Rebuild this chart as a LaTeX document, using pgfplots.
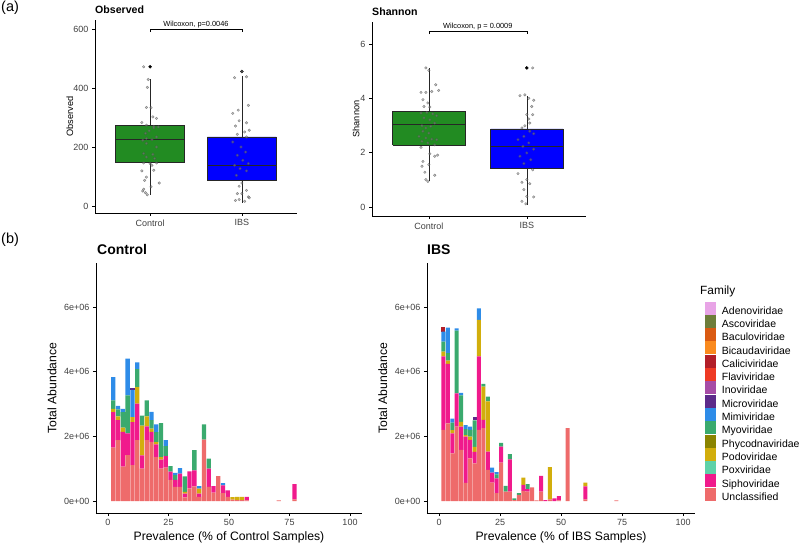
\documentclass[border=0pt]{standalone}
\usepackage{pgfplots}
\pgfplotsset{compat=1.18}
\usepackage{pgfplotstable}
\usepackage{fontspec}
\setmainfont{Liberation Sans}
\newcommand\fs[1]{\fontsize{#1}{#1}\selectfont}
\definecolor{cAde}{HTML}{E8A4E6}
\definecolor{cAsc}{HTML}{6E7D3A}
\definecolor{cBac}{HTML}{DA5A12}
\definecolor{cBic}{HTML}{FA8A1E}
\definecolor{cCal}{HTML}{B21E28}
\definecolor{cFla}{HTML}{EE3A24}
\definecolor{cIno}{HTML}{A64CA6}
\definecolor{cMic}{HTML}{5C2A8A}
\definecolor{cMim}{HTML}{2E8CE8}
\definecolor{cMyo}{HTML}{3AAA6E}
\definecolor{cPhy}{HTML}{8A8400}
\definecolor{cPod}{HTML}{D2AE0C}
\definecolor{cPox}{HTML}{5ED2A8}
\definecolor{cSip}{HTML}{F01A8C}
\definecolor{cUnc}{HTML}{EE6B6B}
\definecolor{cGreen}{HTML}{228B22}
\definecolor{cBlue}{HTML}{0000FF}

\pgfplotstableread{
x U S P M B D R
2.20 1.65 1.10 0.10 0.26 0.72 0 0
4.17 1.88 0.62 0.12 0.21 0.11 0 0
6.14 1.06 1.08 0.13 0.48 0.10 0 0
8.11 1.42 0.67 0 1.18 1.13 0 0
10.08 1.11 1.33 0.15 0 0.84 0.05 0
12.05 1.88 1.13 0.51 0.56 0.21 0 0
14.02 1.00 0.41 0.92 0.31 0 0 0
15.99 1.88 0.43 0.31 0.49 0 0 0
17.96 1.83 0.31 0.10 0.26 0.26 0 0
19.93 1.36 0.39 0.07 0.31 0.24 0 0
21.90 1.00 0.28 0.08 1.05 0 0 0
23.87 1.03 0.36 0 0.31 0.18 0 0
25.84 0.65 0.26 0 0.17 0 0 0
27.81 0.44 0.21 0 0.15 0.07 0 0
29.78 0.44 0.41 0 0 0.17 0 0
31.75 0.11 0.12 0.05 0.48 0 0 0
33.72 0.39 0.53 0 0 0 0 0
35.69 0.45 0.50 0 0.62 0 0 0
37.66 0.13 0.10 0.15 0 0.08 0 0
39.63 1.90 0 0 0.47 0 0 0
41.60 0.44 0.56 0 0.31 0 0 0
43.57 0.26 0.20 0 0 0 0 0
45.54 0.77 0 0 0 0 0 0
47.51 0.24 0.24 0 0 0.07 0 0
49.48 0.13 0.20 0 0 0 0 0
51.45 0.04 0 0.08 0 0 0 0
53.42 0.03 0 0.10 0 0 0 0
55.39 0.03 0 0.10 0 0 0 0
57.36 0.02 0.11 0 0 0 0 0
70.60 0.02 0 0 0 0 0 0
77.10 0.05 0.47 0 0 0 0 0
}\ctrl

\pgfplotstableread{
x U S P M B D R
1.82 2.20 2.27 0.15 0.31 0.31 0 0.15
3.64 2.40 1.84 0.10 0.23 0.79 0 0
5.45 1.47 0.62 0.10 0.23 0.13 0 0
7.27 2.30 1.03 0 1.94 0.07 0 0
9.09 1.58 0.72 0.15 0.82 0.07 0 0
10.91 0.56 1.43 0.05 0.18 0.13 0 0
12.73 1.32 0.57 0.10 0.21 0.10 0 0
14.55 1.16 0.36 0.15 0.82 0 0.10 0
16.36 2.20 2.27 1.13 0 0.36 0 0
18.18 2.25 0.26 1.03 0.08 0 0 0
20.00 0.96 0.57 1.55 0.15 0 0 0
21.82 0.57 0.31 0 0 0.15 0 0
23.64 0.24 0.46 0 0.12 0.07 0 0
25.45 1.19 0.49 0 0.12 0 0 0
27.27 0.29 0 0 0.18 0 0 0
29.09 0.29 1.00 0 0.16 0 0 0
30.91 0.03 0 0 0.05 0 0 0
32.73 0.19 0 0 0.05 0 0 0
34.55 0.31 0.19 0.22 0 0 0 0
36.36 0.29 0.08 0 0.15 0 0 0
38.18 0.42 0 0 0 0 0 0
40.00 0.02 0 0 0 0 0 0
41.82 0.29 0.49 0 0 0 0 0
43.64 0 0.03 0 0 0 0 0
45.45 0.05 0 1.00 0 0 0 0
47.27 0 0.08 0 0 0 0 0
49.09 0.02 0.13 0 0 0 0 0
52.73 2.25 0 0 0 0 0 0
60.00 0.05 0.40 0.12 0 0 0 0
72.73 0.02 0 0 0 0 0 0
}\ibs

\pgfplotsset{
  gg/.style={scale only axis, axis x line=bottom, axis y line=left,
    axis line style={-, black, line width=0.5pt},
    tick align=outside, major tick length=3pt,
    tick style={black, line width=0.5pt},
    ticklabel style={color=black!75},
    clip=false},
  jit/.style={only marks, mark=*, mark size=1.3pt,
    mark options={fill=black!45, draw=black!70, fill opacity=0.5, draw opacity=0.6}},
  sw/.style={legend image code/.code={\fill[#1] (0pt,-2.6pt) rectangle (10pt,9.4pt);}},
  bx/.style={draw=black!85, line width=0.5pt},
  md/.style={draw=black!85, line width=1pt}
}

\begin{document}
\begin{tikzpicture}
\useasboundingbox (0pt,0pt) rectangle (800pt,544pt);

% (a) Observed
\begin{axis}[gg, at={(95pt,331pt)}, anchor=south west, width=202pt, height=193pt,
  xmin=0.4, xmax=2.6, ymin=-23.7, ymax=630.5,
  xtick={1,2}, xticklabels={Control,IBS}, ytick={0,200,400,600}, yticklabels={0,200,400,600},
  ticklabel style={font=\fs{9}},
  ylabel={Observed}, ylabel style={font=\fs{9.2}, at={(axis description cs:-0.124,0.5)}, anchor=center}]
\addplot[bx] coordinates {(1,38) (1,147)};
\addplot[bx] coordinates {(1,274) (1,430)};
\addplot[bx, fill=cGreen] coordinates {(0.625,147) (1.375,147) (1.375,274) (0.625,274) (0.625,147)};
\addplot[md] coordinates {(0.625,225) (1.375,225)};
\addplot[bx] coordinates {(2,11) (2,87)};
\addplot[bx] coordinates {(2,234) (2,440)};
\addplot[bx, fill=cBlue] coordinates {(1.625,87) (2.375,87) (2.375,234) (1.625,234) (1.625,87)};
\addplot[md] coordinates {(1.625,138) (2.375,138)};
\addplot[only marks, mark=*, mark size=1.5pt, black] coordinates {(1,472) (2,456)};
\addplot[jit] coordinates {(0.93,472) (0.98,429) (0.97,402) (0.96,334) (1.01,333) (1.03,302) (1.07,297) (0.91,283) (0.96,274) (1.04,270) (1.09,268) (1.04,265) (0.99,255) (0.95,246) (1.07,234) (0.96,229) (0.92,223) (1.02,225) (0.96,212) (1.07,200) (0.93,178) (1.03,175) (0.96,166) (1.05,161) (1.00,144) (0.93,146) (1.07,146) (1.02,138) (0.91,119) (1.04,121) (0.96,98) (0.94,87) (1.10,78) (1.01,65) (0.93,57) (0.95,45) (0.97,38) (0.92,51)};
\addplot[jit] coordinates {(1.92,435) (2.05,438) (2.00,456) (1.96,325) (2.07,341) (1.90,314) (1.97,289) (2.05,282) (1.93,271) (2.08,257) (2.03,251) (1.95,243) (2.05,234) (1.90,217) (1.99,200) (2.04,183) (1.95,172) (2.01,155) (2.07,144) (1.92,138) (1.98,127) (2.05,119) (1.94,104) (2.00,78) (1.97,67) (2.05,53) (1.95,42) (2.00,42) (2.07,31) (1.97,22) (2.03,16) (1.93,19) (2.08,28)};
\addplot[black, line width=0.5pt] coordinates {(1,589) (1,600) (2,600) (2,589)};
\node[anchor=south, inner sep=0.6pt, font=\fs{7.4}] at (axis cs:1.5,600) {Wilcoxon, p=0.0046};
\end{axis}

% (a) Shannon
\begin{axis}[gg, at={(372pt,328pt)}, anchor=south west, width=213.6pt, height=194pt,
  xmin=0.42, xmax=2.6, ymin=-0.33, ymax=6.81,
  xtick={1,2}, xticklabels={Control,IBS}, ytick={0,2,4,6}, yticklabels={0,2,4,6},
  ticklabel style={font=\fs{9}},
  ylabel={Shannon}, ylabel style={font=\fs{9.2}, at={(axis description cs:-0.075,0.5)}, anchor=center}]
\addplot[bx] coordinates {(1,0.97) (1,2.29)};
\addplot[bx] coordinates {(1,3.51) (1,5.1)};
\addplot[bx, fill=cGreen] coordinates {(0.63,2.29) (1.37,2.29) (1.37,3.51) (0.63,3.51) (0.63,2.29)};
\addplot[md] coordinates {(0.63,3.03) (1.37,3.03)};
\addplot[bx] coordinates {(2,0.09) (2,1.41)};
\addplot[bx] coordinates {(2,2.88) (2,4.1)};
\addplot[bx, fill=cBlue] coordinates {(1.63,1.41) (2.37,1.41) (2.37,2.88) (1.63,2.88) (1.63,1.41)};
\addplot[md] coordinates {(1.63,2.23) (2.37,2.23)};
\addplot[only marks, mark=*, mark size=1.5pt, black] coordinates {(2,5.12)};
\addplot[jit] coordinates {(0.97,5.12) (1.00,5.03) (1.07,4.5) (0.92,4.22) (0.97,4.22) (1.03,4.25) (1.10,4.29) (0.94,3.95) (0.99,3.83) (0.95,3.7) (1.01,3.68) (0.92,3.46) (0.98,3.48) (1.04,3.43) (1.08,3.36) (0.95,3.28) (1.01,3.21) (1.06,3.09) (0.93,2.99) (0.97,2.91) (1.02,2.97) (0.94,2.79) (1.00,2.72) (0.90,2.6) (0.97,2.54) (1.03,2.5) (1.08,2.48) (0.93,2.42) (0.99,2.36) (1.06,2.29) (0.92,2.2) (1.01,1.96) (1.06,1.87) (1.09,1.91) (0.94,1.68) (1.00,1.56) (0.93,1.5) (0.96,1.28) (1.06,1.17) (0.97,1.01) (0.99,0.94)};
\addplot[jit] coordinates {(2.06,5.12) (1.93,4.1) (1.98,4.13) (2.02,4.0) (2.07,3.93) (2.05,3.7) (2.00,3.4) (2.06,3.4) (2.02,3.24) (2.03,3.09) (1.98,2.99) (1.95,2.91) (2.03,2.79) (2.07,2.7) (1.97,2.6) (1.91,2.48) (2.02,2.36) (1.96,2.23) (2.07,2.13) (2.00,1.99) (1.93,1.87) (2.04,1.74) (1.97,1.6) (2.06,1.37) (1.91,1.23) (2.00,1.01) (1.95,0.91) (2.03,0.86) (1.97,0.64) (2.00,0.39) (2.07,0.37) (1.95,0.21) (1.99,0.12)};
\addplot[black, line width=0.5pt] coordinates {(1,6.36) (1,6.48) (2,6.48) (2,6.36)};
\node[anchor=south, inner sep=0.6pt, font=\fs{7.4}] at (axis cs:1.5,6.48) {Wilcoxon, p = 0.0009};
\end{axis}

% (b) Control
\begin{axis}[gg, ybar stacked, bar width=1.77, at={(95.9pt,31pt)}, anchor=south west, width=266.2pt, height=250pt,
  xmin=-5, xmax=105, ymin=-0.371, ymax=7.36,
  xtick={0,25,50,75,100}, xticklabels={0,25,50,75,100}, ytick={0,2,4,6}, yticklabels={0e+00,2e+06,4e+06,6e+06},
  ticklabel style={font=\fs{9}},
  xlabel={Prevalence (\% of Control Samples)}, xlabel style={font=\fs{12.2}, at={(axis description cs:0.5,-0.096)}, anchor=center},
  ylabel={Total Abundance}, ylabel style={font=\fs{12.2}, at={(axis description cs:-0.165,0.5)}, anchor=center}]
\addplot[fill=cUnc, draw=none] table[x=x, y=U] {\ctrl};
\addplot[fill=cSip, draw=none] table[x=x, y=S] {\ctrl};
\addplot[fill=cPod, draw=none] table[x=x, y=P] {\ctrl};
\addplot[fill=cMyo, draw=none] table[x=x, y=M] {\ctrl};
\addplot[fill=cMim, draw=none] table[x=x, y=B] {\ctrl};
\addplot[fill=cMic, draw=none] table[x=x, y=D] {\ctrl};
\addplot[fill=cCal, draw=none] table[x=x, y=R] {\ctrl};
\end{axis}

% (b) IBS
\begin{axis}[gg, ybar stacked, bar width=1.64, at={(426.8pt,31pt)}, anchor=south west, width=268.4pt, height=250pt,
  xmin=-5, xmax=105, ymin=-0.371, ymax=7.36,
  xtick={0,25,50,75,100}, xticklabels={0,25,50,75,100}, ytick={0,2,4,6}, yticklabels={0e+00,2e+06,4e+06,6e+06},
  ticklabel style={font=\fs{9}},
  xlabel={Prevalence (\% of IBS Samples)}, xlabel style={font=\fs{12.2}, at={(axis description cs:0.5,-0.096)}, anchor=center},
  ylabel={Total Abundance}, ylabel style={font=\fs{12.2}, at={(axis description cs:-0.164,0.5)}, anchor=center}]
\addplot[fill=cUnc, draw=none] table[x=x, y=U] {\ibs};
\addplot[fill=cSip, draw=none] table[x=x, y=S] {\ibs};
\addplot[fill=cPod, draw=none] table[x=x, y=P] {\ibs};
\addplot[fill=cMyo, draw=none] table[x=x, y=M] {\ibs};
\addplot[fill=cMim, draw=none] table[x=x, y=B] {\ibs};
\addplot[fill=cMic, draw=none] table[x=x, y=D] {\ibs};
\addplot[fill=cCal, draw=none] table[x=x, y=R] {\ibs};
\end{axis}

% legend
\begin{axis}[at={(704.5pt,242.5pt)}, anchor=north west, hide axis, scale only axis, width=5pt, height=5pt,
  xmin=0, xmax=1, ymin=0, ymax=1, legend cell align=left,
  legend style={at={(0,1)}, anchor=north west, draw=none, fill=none, inner sep=0pt, outer sep=0pt,
    font=\fs{10.5}, row sep=-1.3pt, nodes={inner sep=0pt, text height=8pt, text depth=2pt},
    /tikz/every odd column/.append style={column sep=7pt}}]
\addlegendimage{sw=cAde}\addlegendentry{Adenoviridae}
\addlegendimage{sw=cAsc}\addlegendentry{Ascoviridae}
\addlegendimage{sw=cBac}\addlegendentry{Baculoviridae}
\addlegendimage{sw=cBic}\addlegendentry{Bicaudaviridae}
\addlegendimage{sw=cCal}\addlegendentry{Caliciviridae}
\addlegendimage{sw=cFla}\addlegendentry{Flaviviridae}
\addlegendimage{sw=cIno}\addlegendentry{Inoviridae}
\addlegendimage{sw=cMic}\addlegendentry{Microviridae}
\addlegendimage{sw=cMim}\addlegendentry{Mimiviridae}
\addlegendimage{sw=cMyo}\addlegendentry{Myoviridae}
\addlegendimage{sw=cPhy}\addlegendentry{Phycodnaviridae}
\addlegendimage{sw=cPod}\addlegendentry{Podoviridae}
\addlegendimage{sw=cPox}\addlegendentry{Poxviridae}
\addlegendimage{sw=cSip}\addlegendentry{Siphoviridae}
\addlegendimage{sw=cUnc}\addlegendentry{Unclassified}
\end{axis}

% titles
\node[anchor=west, inner sep=0pt, font=\fs{14.5}] at (1pt,536pt) {(a)};
\node[anchor=west, inner sep=0pt, font=\fs{14.5}] at (1pt,304pt) {(b)};
\node[anchor=west, inner sep=0pt, font=\bfseries\fs{10.6}] at (95pt,534pt) {Observed};
\node[anchor=west, inner sep=0pt, font=\bfseries\fs{10.6}] at (372pt,532pt) {Shannon};
\node[anchor=west, inner sep=0pt, font=\bfseries\fs{14}] at (97pt,294.7pt) {Control};
\node[anchor=west, inner sep=0pt, font=\bfseries\fs{14}] at (427pt,294.7pt) {IBS};
\node[anchor=west, inner sep=0pt, font=\fs{11.9}] at (700pt,252.3pt) {Family};
\end{tikzpicture}
\end{document}
